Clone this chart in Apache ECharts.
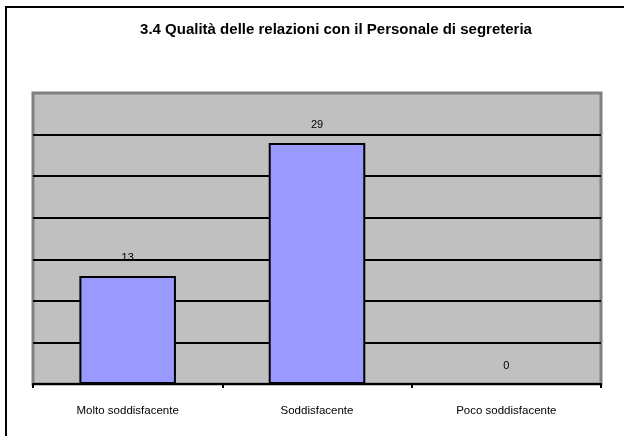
<!DOCTYPE html>
<html>
<head>
<meta charset="utf-8">
<script src="https://cdn.jsdelivr.net/npm/echarts@6/dist/echarts.min.js"></script>
<style>
  html, body { margin: 0; padding: 0; background: #fff; }
  #chart { width: 624px; height: 436px; }
</style>
</head>
<body>
<div id="chart"></div>
<script>
var titolo = '3.4 Qualità delle relazioni con il Personale di segreteria';
var categorie = ['Molto soddisfacente', 'Soddisfacente', 'Poco soddisfacente'];
var valori = [13, 29, 0];

var chart = echarts.init(document.getElementById('chart'));

var option = {
  backgroundColor: '#fff',
  animation: false,
  textStyle: { fontFamily: 'Liberation Sans, Arial, sans-serif' },
  title: {
    text: titolo,
    left: 331,
    top: 17,
    textAlign: 'center',
    textStyle: { fontSize: 15, fontWeight: 'bold', color: '#000', fontFamily: 'Liberation Sans, Arial, sans-serif' }
  },
  graphic: [
    { // cornice esterna
      type: 'rect',
      shape: { x: 6, y: 7, width: 700, height: 500 },
      style: { fill: 'none', stroke: '#000', lineWidth: 2 },
      silent: true
    }
  ],
  grid: {
    left: 33, right: 23, top: 93, bottom: 52,
    show: true,
    backgroundColor: '#c0c0c0',
    borderColor: '#808080',
    borderWidth: 3
  },
  xAxis: {
    type: 'category',
    data: categorie,
    axisLine: { lineStyle: { color: '#000', width: 2 } },
    axisTick: { show: true, length: 4, lineStyle: { color: '#000', width: 2 } },
    axisLabel: { color: '#000', fontSize: 11.5, margin: 21 }
  },
  yAxis: {
    type: 'value',
    min: 0, max: 35, interval: 5,
    axisLine: { show: false },
    axisTick: { show: false },
    axisLabel: { show: false },
    // l'ultima linea (in alto) resta grigia come il bordo
    splitLine: { show: true, lineStyle: { color: ['#000', '#000', '#000', '#000', '#000', '#000', '#000', '#808080'], width: 2 } }
  },
  series: [{
    type: 'bar',
    data: valori,
    barWidth: '51%',
    itemStyle: { color: '#9999ff', borderColor: '#000', borderWidth: 2 },
    label: { show: true, position: 'top', color: '#000', fontSize: 11, distance: 12 }
  }]
};

chart.setOption(option);
</script>
</body>
</html>
